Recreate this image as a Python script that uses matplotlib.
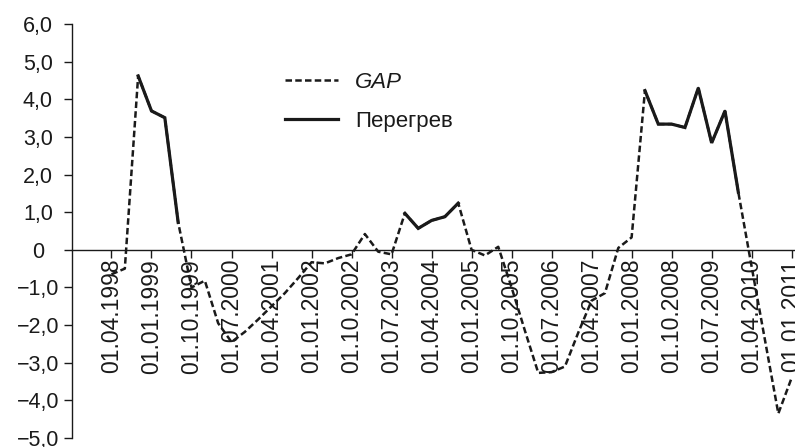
import numpy as np
import pandas as pd
import matplotlib
matplotlib.use("Agg")
import matplotlib.pyplot as plt
from matplotlib.lines import Line2D

plt.rcParams["font.family"] = ["Liberation Sans", "DejaVu Sans"]

# Quarterly observations, 1998Q2 .. 2011Q1
quarters = pd.period_range("1998Q2", "2011Q1", freq="Q")

# Output gap, % of potential output
gap = [-0.65, -0.50, 4.62, 3.69, 3.51, 0.73, -1.00, -0.82, -1.95, -2.45,
       -2.18, -1.85, -1.50, -1.15, -0.75, -0.33, -0.36, -0.22, -0.12, 0.42,
       -0.05, -0.12, 0.97, 0.57, 0.78, 0.88, 1.24, 0.00, -0.15, 0.08,
       -1.00, -2.15, -3.27, -3.25, -3.10, -2.20, -1.35, -1.15, 0.05, 0.33,
       4.23, 3.34, 3.34, 3.25, 4.30, 2.84, 3.69, 1.53, -0.45, -2.40,
       -4.35, -3.40]

# Periods classified as overheating (first and last quarter)
overheat_periods = [("1998Q4", "1999Q3"), ("2003Q4", "2004Q4"), ("2008Q2", "2010Q1")]

y_ticks = [6, 5, 4, 3, 2, 1, 0, -1, -2, -3, -4, -5]
y_tick_labels = ["6,0", "5,0", "4,0", "3,0", "2,0", "1,0", "0",
                 "\u22121,0", "\u22122,0", "\u22123,0", "\u22124,0", "\u22125,0"]

series_labels = ["GAP", "Перегрев"]

ink = "#1a1a1a"

gap_s = pd.Series(gap, index=quarters)
overheat = pd.Series(np.nan, index=quarters)
for start, end in overheat_periods:
    overheat[start:end] = gap_s[start:end]

x = np.arange(len(quarters))

W, H = 795, 447
fig = plt.figure(figsize=(W / 100, H / 100), dpi=100)
ax = fig.add_axes([72 / W, 9 / H, (W - 72) / W, (438 - 24) / H])

dash = (0, (2.6, 1.3))
ax.plot(x, gap_s.values, color=ink, lw=1.8, linestyle=dash, zorder=3)
ax.plot(x, overheat.values, color=ink, lw=2.3, solid_joinstyle="miter", zorder=4)

ax.set_ylim(-5, 6)
ax.set_xlim(-2.96, 51.25)

for side in ("top", "right"):
    ax.spines[side].set_visible(False)
ax.spines["bottom"].set_position(("data", 0))
for side in ("left", "bottom"):
    ax.spines[side].set_linewidth(1.0)
    ax.spines[side].set_color(ink)

ax.set_yticks(y_ticks)
ax.set_yticklabels(y_tick_labels, fontsize=15.5, color=ink)
ax.tick_params(axis="y", direction="out", length=6, width=1.0, color=ink, pad=18.5)
for lab in ax.get_yticklabels():
    lab.set_horizontalalignment("center")

tick_pos = x[::3]
tick_lab = [q.start_time.strftime("%d.%m.%Y") for q in quarters[::3]]
ax.set_xticks(tick_pos)
ax.set_xticklabels(tick_lab, rotation=90, fontsize=16.5, color=ink)
ax.tick_params(axis="x", direction="out", length=6, width=1.0, color=ink, pad=0.5)

handles = [Line2D([], [], color=ink, lw=1.8, linestyle=dash),
           Line2D([], [], color=ink, lw=2.3)]
leg = ax.legend(handles, series_labels, loc="upper left",
                bbox_to_anchor=(285 / W, 1 - 72 / H), bbox_transform=fig.transFigure,
                frameon=False, fontsize=16, handlelength=2.4, handletextpad=0.75,
                labelspacing=0.82, borderpad=0, borderaxespad=0)
leg.get_texts()[0].set_fontstyle("italic")
for t in leg.get_texts():
    t.set_color(ink)

fig.savefig("out.png", dpi=100)
